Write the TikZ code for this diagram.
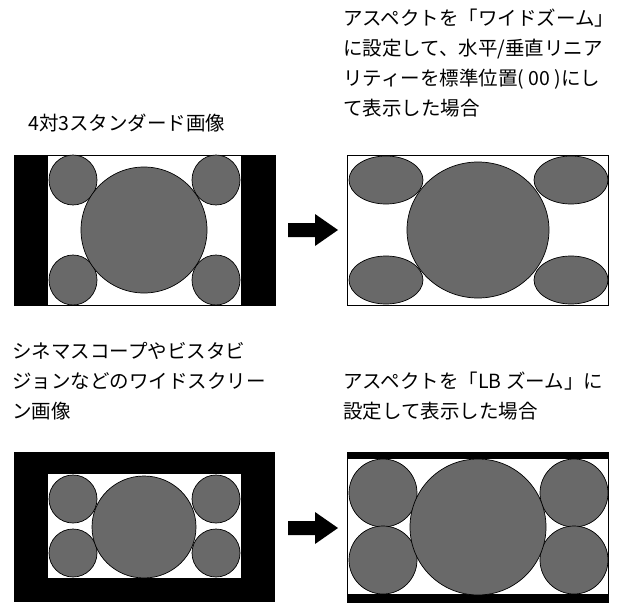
\documentclass[tikz,border=0pt]{standalone}
\usepackage{fontspec}
\newfontfamily\jp{Noto Sans CJK JP}
\definecolor{circgray}{RGB}{105,105,105}
\begin{document}
\begin{tikzpicture}[x=1pt,y=-1pt,
  gr/.style={fill=circgray, draw=black, line width=0.7pt},
  frame/.style={draw=black, line width=0.8pt},
  lbl/.style={anchor=north west, inner sep=0pt, font=\jp\fontsize{19.5}{30}\selectfont, align=left},
  arr/.style={fill=black}]
\useasboundingbox (0,0) rectangle (634,607);
% labels
\node[lbl] (t1) at (28,114) {4対3スタンダード画像};
\node[lbl] (t2) at (343,9) {アスペクトを「ワイドズーム」\\に設定して、水平/垂直リニア\\リティーを標準位置( 00 )にし\\て表示した場合};
\node[lbl] (t3) at (12,342) {シネマスコープやビスタビ\\ジョンなどのワイドスクリー\\ン画像};
\node[lbl] (t4) at (343,372) {アスペクトを「LB ズーム」に\\設定して表示した場合};
% top-left
\fill[black] (14,155) rectangle (48,305);
\fill[black] (241,155) rectangle (275,305);
\draw[frame] (14,155) rectangle (275,305);
\draw[gr] (73,180) ellipse [x radius=24, y radius=25];
\draw[gr] (216,180) ellipse [x radius=24, y radius=25];
\draw[gr] (73,280) ellipse [x radius=24, y radius=25];
\draw[gr] (216,280) ellipse [x radius=24, y radius=25];
\draw[gr] (144,230) circle [radius=63];
% top arrow
\fill[arr] (288,223) -- (315,223) -- (315,214) -- (338,230) -- (315,246) -- (315,237) -- (288,237) -- cycle;
% top-right
\draw[frame] (347,155) rectangle (608,305);
\draw[gr] (386,180) ellipse [x radius=37, y radius=24];
\draw[gr] (571,180) ellipse [x radius=37, y radius=24];
\draw[gr] (386,280) ellipse [x radius=37, y radius=24];
\draw[gr] (571,280) ellipse [x radius=37, y radius=24];
\draw[gr] (478,230) ellipse [x radius=71, y radius=68];
% bottom-left
\fill[black] (14,452) rectangle (275,602);
\fill[white] (48,474) rectangle (241,578);
\draw[gr] (73,499) ellipse [x radius=24, y radius=24];
\draw[gr] (73,553) ellipse [x radius=24, y radius=24];
\draw[gr] (216,499) ellipse [x radius=24, y radius=24];
\draw[gr] (216,553) ellipse [x radius=24, y radius=24];
\draw[gr] (144,527) ellipse [x radius=52, y radius=51];
% bottom arrow
\fill[arr] (288,521) -- (315,521) -- (315,512) -- (338,528) -- (315,544) -- (315,535) -- (288,535) -- cycle;
% bottom-right
\draw[frame] (347,452) rectangle (608,602);
\fill[black] (347,452) rectangle (608,459);
\fill[black] (347,594) rectangle (608,602);
\draw[gr] (383,493) ellipse [x radius=34, y radius=34];
\draw[gr] (383,560) ellipse [x radius=34, y radius=34];
\draw[gr] (574,493) ellipse [x radius=34, y radius=34];
\draw[gr] (574,560) ellipse [x radius=34, y radius=34];
\draw[gr] (478,527) ellipse [x radius=68, y radius=68];
\end{tikzpicture}
\end{document}
